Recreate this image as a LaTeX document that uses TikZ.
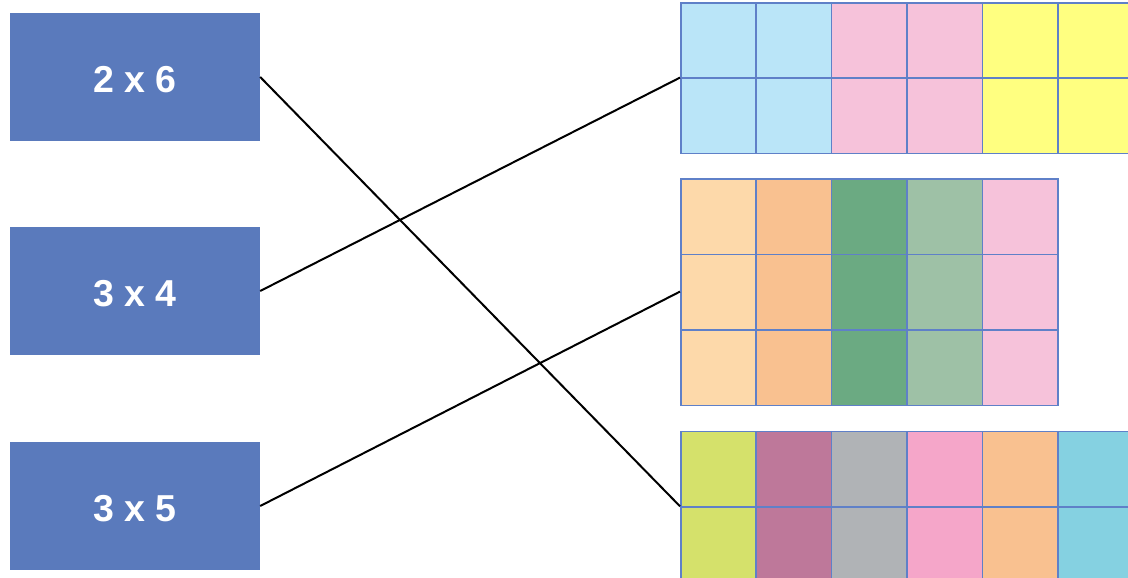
\documentclass[tikz,border=0pt]{standalone}
\usepackage{fontspec}
\setmainfont{Liberation Sans}
\definecolor{boxblue}{RGB}{90,122,188}
\definecolor{gridblue}{RGB}{95,128,200}
\definecolor{lblue}{RGB}{186,229,248}
\definecolor{lpink}{RGB}{246,194,218}
\definecolor{lyellow}{RGB}{255,255,128}
\definecolor{peach}{RGB}{253,217,170}
\definecolor{lorange}{RGB}{249,193,144}
\definecolor{dgreen}{RGB}{107,170,130}
\definecolor{sgreen}{RGB}{158,193,166}
\definecolor{lime}{RGB}{213,225,107}
\definecolor{mauve}{RGB}{190,120,154}
\definecolor{lgray}{RGB}{176,179,182}
\definecolor{hpink}{RGB}{245,166,201}
\definecolor{cyan2}{RGB}{133,209,225}
\begin{document}
\begin{tikzpicture}[x=1pt,y=-1pt,
  blockbox/.style={fill=boxblue, minimum width=250pt, minimum height=128pt, inner sep=0pt,
    text=white, text height=31pt, text depth=0pt, font=\bfseries\fontsize{37.5}{40}\selectfont},
  cell/.style={draw=gridblue, line width=1.6pt, minimum size=75.4pt, inner sep=0pt, anchor=north west},
  gridarea/.style={inner sep=0pt, anchor=north west},
  link/.style={line width=2pt, black}]
\useasboundingbox (0,0) rectangle (1128,578);
% left boxes
\node[blockbox] (b1) at (135,77) {2 x 6};
\node[blockbox] (b2) at (135,291) {3 x 4};
\node[blockbox] (b3) at (135,506) {3 x 5};
% grid areas
\node[gridarea, minimum width=452.4pt, minimum height=150.8pt] (g1) at (680,2) {};
\node[gridarea, minimum width=377pt, minimum height=226.2pt] (g2) at (680,178.3) {};
\node[gridarea, minimum width=452.4pt, minimum height=150.8pt] (g3) at (680,430.7) {};
% cells of top grid
\foreach \c [count=\i from 0] in {lblue,lblue,lpink,lpink,lyellow,lyellow}
  \foreach \r in {0,1}
    \node[cell, fill=\c] (t-\i-\r) at (680+\i*75.4, 2+\r*75.4) {};
% cells of middle grid
\foreach \c [count=\i from 0] in {peach,lorange,dgreen,sgreen,lpink}
  \foreach \r in {0,1,2}
    \node[cell, fill=\c] (m-\i-\r) at (680+\i*75.4, 178.3+\r*75.4) {};
% cells of bottom grid
\foreach \c [count=\i from 0] in {lime,mauve,lgray,hpink,lorange,cyan2}
  \foreach \r in {0,1}
    \node[cell, fill=\c] (u-\i-\r) at (680+\i*75.4, 430.7+\r*75.4) {};
% connectors
\draw[link] (b1.east) -- (g3.west);
\draw[link] (b2.east) -- (g1.west);
\draw[link] (b3.east) -- (g2.west);
\end{tikzpicture}
\end{document}
